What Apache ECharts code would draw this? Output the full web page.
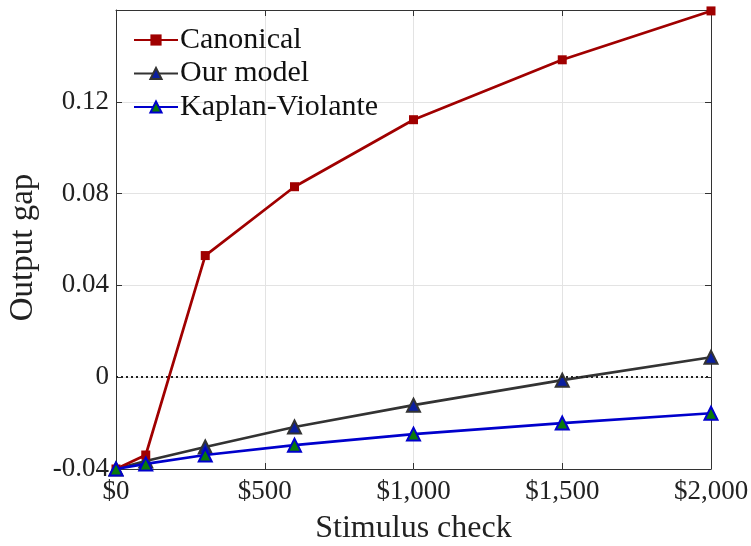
<!DOCTYPE html>
<html><head><meta charset="utf-8">
<script src="https://cdn.jsdelivr.net/npm/echarts@6/dist/echarts.min.js"></script>
<style>html,body{margin:0;padding:0;background:#fff}#c{width:751px;height:546px}</style>
</head><body><div id="c"></div>
<script>
const checks = [0, 100, 300, 600, 1000, 1500, 2000];
const canonical = [-0.04, -0.0339, 0.053, 0.083, 0.1122, 0.1383, 0.1596];
const ourModel = [-0.04, -0.0365, -0.0304, -0.0217, -0.0122, -0.0013, 0.0087];
const kaplanViolante = [-0.04, -0.0378, -0.0339, -0.0296, -0.0248, -0.020, -0.0157];
const xTicks = [0, 500, 1000, 1500, 2000];
const yTicks = [-0.04, 0, 0.04, 0.08, 0.12];

const FONT = 'Liberation Serif';
const pair = (arr) => checks.map((x, i) => [x, arr[i]]);
const fmtX = v => '$' + v.toLocaleString('en-US');
const fmtY = v => {
  const r = Math.round(v * 100) / 100;
  if (!yTicks.some(t => Math.abs(t - r) < 1e-9)) return '';
  return r === 0 ? '0' : r.toFixed(2);
};

const chart = echarts.init(document.getElementById('c'), null, {renderer: 'canvas'});
const axisLine = {show: true, onZero: false, lineStyle: {color: '#333', width: 1}};
const tick = {show: true, inside: true, length: 6, lineStyle: {color: '#333'}};
chart.setOption({
  animation: false,
  grid: {left: 116, right: 40, top: 10, bottom: 77, containLabel: false, outerBoundsMode: 'none'},
  legend: {
    left: 128, top: 20, orient: 'vertical', itemGap: 3.5, itemWidth: 44, itemHeight: 14,
    textStyle: {fontFamily: FONT, fontSize: 30, color: '#111', lineHeight: 30, padding: [0, 0, 0, -3]},
    data: ['Canonical', 'Our model', 'Kaplan-Violante']
  },
  xAxis: [{
    type: 'value', min: 0, max: 2000, interval: 500,
    name: 'Stimulus check', nameLocation: 'middle', nameGap: 44,
    nameTextStyle: {fontFamily: FONT, fontSize: 32, color: '#222'},
    axisLine: axisLine, axisTick: tick,
    axisLabel: {formatter: fmtX, fontFamily: FONT, fontSize: 27, color: '#222', margin: 9},
    splitLine: {show: true, lineStyle: {color: '#e3e3e3', width: 1}}
  }, {
    type: 'value', min: 0, max: 2000, interval: 500, position: 'top',
    axisLine: axisLine, axisTick: tick,
    axisLabel: {show: false}, splitLine: {show: false}
  }],
  yAxis: [{
    type: 'value', min: -0.04, max: 0.16, interval: 0.04,
    name: 'Output gap', nameLocation: 'middle', nameGap: 76,
    nameTextStyle: {fontFamily: FONT, fontSize: 33, color: '#222', padding: [0, 16, 0, 0]},
    axisLine: axisLine, axisTick: tick,
    axisLabel: {formatter: fmtY, fontFamily: FONT, fontSize: 27, color: '#222', margin: 7},
    splitLine: {show: true, lineStyle: {color: '#e3e3e3', width: 1}}
  }, {
    type: 'value', min: -0.04, max: 0.16, interval: 0.04, position: 'right',
    axisLine: axisLine, axisTick: tick,
    axisLabel: {show: false}, splitLine: {show: false}
  }],
  series: [{
    name: 'Canonical', type: 'line', data: pair(canonical),
    symbol: 'rect', symbolSize: 9,
    lineStyle: {color: '#a00000', width: 2.7},
    itemStyle: {color: '#a00000', borderColor: '#a00000', borderWidth: 0},
    z: 5,
    markLine: {
      silent: true, symbol: 'none', label: {show: false},
      lineStyle: {color: '#222', type: [2, 3], width: 2},
      data: [{yAxis: 0}]
    }
  }, {
    name: 'Our model', type: 'line', data: pair(ourModel),
    symbol: 'triangle', symbolSize: 13,
    lineStyle: {color: '#333333', width: 2.7},
    itemStyle: {color: '#0b1fa0', borderColor: '#333333', borderWidth: 2},
    z: 4
  }, {
    name: 'Kaplan-Violante', type: 'line', data: pair(kaplanViolante),
    symbol: 'triangle', symbolSize: 13,
    lineStyle: {color: '#0000cc', width: 2.7},
    itemStyle: {color: '#0a7a0a', borderColor: '#0000cc', borderWidth: 2},
    z: 6
  }]
});
</script></body></html>
